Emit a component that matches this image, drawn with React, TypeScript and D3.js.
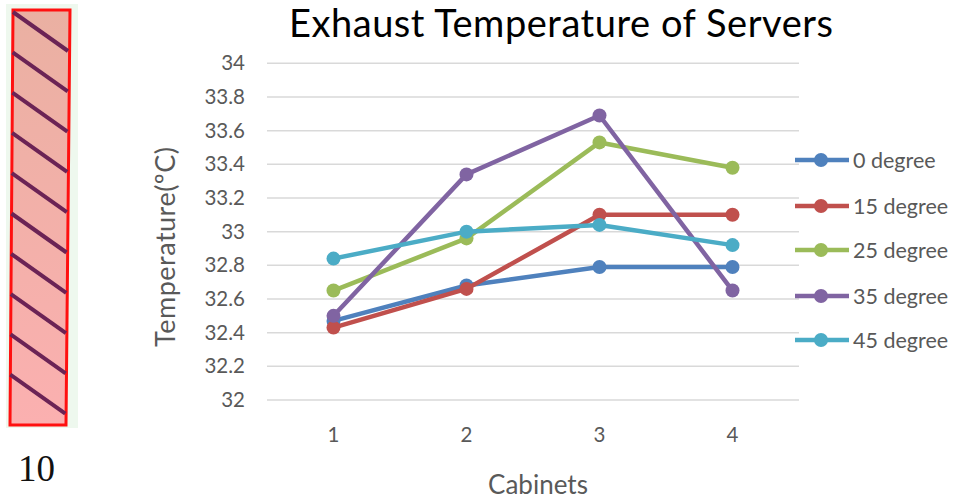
import React from "react";
import * as d3 from "d3";

const categories = ["1", "2", "3", "4"];
const seriesNames = ["0 degree", "15 degree", "25 degree", "35 degree", "45 degree"];
const deg0 = [32.47, 32.68, 32.79, 32.79];
const deg15 = [32.43, 32.66, 33.1, 33.1];
const deg25 = [32.65, 32.96, 33.53, 33.38];
const deg35 = [32.5, 33.34, 33.69, 32.65];
const deg45 = [32.84, 33.0, 33.04, 32.92];
const yTicks = [32, 32.2, 32.4, 32.6, 32.8, 33, 33.2, 33.4, 33.6, 33.8, 34];
const colors = ["#4f81bd", "#c0504d", "#9bbb59", "#8064a2", "#4bacc6"];

const FONT = "Lato, 'Open Sans', sans-serif";

export default function App() {
  const W = 957, H = 501;
  const x = d3.scaleBand().domain(categories).range([267, 799]);
  const y = d3.scaleLinear().domain([32, 34]).range([400, 63.3]);
  const all = [deg0, deg15, deg25, deg35, deg45];
  const line = d3.line<number>()
    .x((_, i) => (x(categories[i]) as number) + x.bandwidth() / 2)
    .y((d) => y(d));
  const hatch = d3.range(10).map((i) => 12 + i * 40.3);
  const legendY = [160, 206, 250, 296, 340];
  return (
    <svg width={W} height={H} style={{ position: "absolute", left: 0, top: 0, background: "#fff" }}>
      {/* left decoration */}
      <rect x={6} y={4} width={72} height={424} fill="#eef8ee" />
      <defs>
        <linearGradient id="pk" x1="0" y1="0" x2="0" y2="1">
          <stop offset="0" stopColor="#eab0a2" />
          <stop offset="1" stopColor="#fbb0b0" />
        </linearGradient>
      </defs>
      <polygon points="13,10 70,10 66,425 10,425" fill="url(#pk)" stroke="#ff1010" strokeWidth={3} />
      {hatch.map((h, i) => (
        <line key={i} x1={13 - i * 0.3} y1={h} x2={68 - i * 0.3} y2={h + 39} stroke="#6b2355" strokeWidth={4} />
      ))}
      <text x={18} y={481} fontFamily="'Liberation Serif', 'DejaVu Serif', serif" fontSize={37} fill="#111">10</text>

      {/* title */}
      <text x={561} y={37} textAnchor="middle" fontFamily={FONT} fontSize={38} textLength={544} lengthAdjust="spacing" fill="#000">Exhaust Temperature of Servers</text>

      {/* grid */}
      {yTicks.map((t) => (
        <g key={t}>
          <line x1={267} x2={799} y1={y(t)} y2={y(t)} stroke="#d9d9d9" strokeWidth={1.5} />
          <text x={245} y={y(t) + 7} textAnchor="end" fontFamily={FONT} fontSize={20.5} fill="#595959">{t}</text>
        </g>
      ))}
      {categories.map((c) => (
        <text key={c} x={(x(c) as number) + x.bandwidth() / 2} y={442} textAnchor="middle" fontFamily={FONT} fontSize={20.5} fill="#595959">{c}</text>
      ))}
      <text transform="translate(175,247) rotate(-90)" textAnchor="middle" fontFamily={FONT} fontSize={27} textLength={200} lengthAdjust="spacing" fill="#595959">Temperature(ºC)</text>
      <text x={538} y={494} textAnchor="middle" fontFamily={FONT} fontSize={26} fill="#595959">Cabinets</text>

      {/* series */}
      {all.map((s, k) => (
        <g key={k}>
          <path d={line(s) as string} fill="none" stroke={colors[k]} strokeWidth={4.5} strokeLinejoin="round" />
          {s.map((v, i) => (
            <circle key={i} cx={(x(categories[i]) as number) + x.bandwidth() / 2} cy={y(v)} r={7} fill={colors[k]} />
          ))}
        </g>
      ))}

      {/* legend */}
      {seriesNames.map((n, k) => (
        <g key={n}>
          <line x1={795} x2={849} y1={legendY[k]} y2={legendY[k]} stroke={colors[k]} strokeWidth={4.5} />
          <circle cx={821} cy={legendY[k]} r={7} fill={colors[k]} />
          <text x={853} y={legendY[k] + 7.5} fontFamily={FONT} fontSize={21.5} fill="#595959">{n}</text>
        </g>
      ))}
    </svg>
  );
}
